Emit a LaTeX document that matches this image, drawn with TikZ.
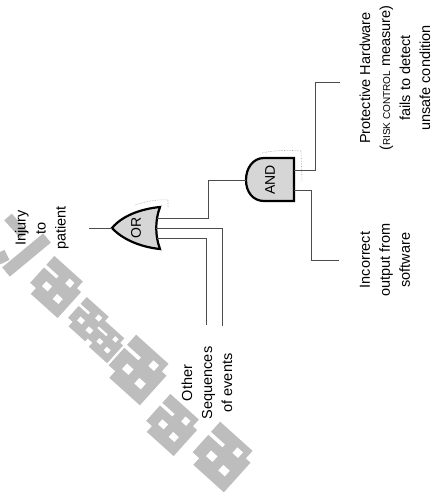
\documentclass[tikz,border=0pt]{standalone}
\usepackage{fontspec}
\setmainfont{Liberation Sans}
\usetikzlibrary{positioning, calc}
\definecolor{gatefill}{gray}{0.84}
\definecolor{wirecol}{gray}{0.3}
\definecolor{markcol}{gray}{0.74}
\tikzset{
    gate/.style={draw=black, line width=2.2pt, fill=gatefill},
    gateshade/.style={draw=gray!70, densely dotted, line width=0.6pt},
    wire/.style={draw=wirecol, line width=1pt},
    gatelabel/.style={rotate=90, font=\fontsize{14}{14}\selectfont},
    eventlabel/.style={rotate=90, align=center, inner sep=0pt, font=\fontsize{14.5}{20}\selectfont},
    markbar/.style={draw=markcol, line width=10pt}
}
% one block of the grey mark
\newcommand{\markblock}[3]{%
    \begin{scope}[shift={(#1,#2)}, rotate=-42, scale=#3/2]
        \fill[markcol] (-1,-1) rectangle (1,1);
        \fill[white] (-1.05,-0.45) rectangle (-0.25,-0.3);
        \fill[white] (0.2,-0.7) rectangle (0.5,-0.4);
        \fill[white] (-0.5,0.1) rectangle (-0.15,0.4);
        \fill[white] (0.25,0.2) rectangle (0.6,0.5);
        \fill[white] (0.75,-1.05) rectangle (1.05,-0.6);
        \fill[white] (-1.05,0.65) rectangle (-0.65,1.05);
    \end{scope}
}
\begin{document}
\begin{tikzpicture}[x=1pt, y=-1pt]
    \useasboundingbox (0,0) rectangle (432,503);

    % grey mark
    \draw[markbar] (8,217) -- (24,235);
    \draw[markbar, line width=12pt] (6,272) -- (47,238);
    \draw[markbar] (0,252) -- (5,262);
    \markblock{56}{287}{44}
    \markblock{88}{321}{34}
    \markblock{106}{342}{30}
    \markblock{138}{370}{50}
    \markblock{172}{425}{44}
    \markblock{222}{457}{50}

    % labels
    \node[eventlabel] (injury) at (42,228) {Injury\\to\\patient};
    \node[eventlabel] (other) at (207,383) {Other\\Sequences\\of events};
    \node[eventlabel] (incorrect) at (385,260) {Incorrect\\output from\\software};
    \node[eventlabel] (hardware) at (395,78) {Protective Hardware\\({\fontsize{10}{20}\selectfont RISK CONTROL} measure)\\fails to detect\\unsafe condition};

    % AND gate
    \draw[gateshade] (262,153) .. controls (275,150) and (290,150) .. (301,151) -- (302,182);
    \draw[gate] (294,158) -- (264,158) .. controls (253,158) and (246,168) .. (246,180)
        .. controls (246,192) and (253,201) .. (264,201) -- (294,201) -- cycle;
    \node[gatelabel] (and) at (270,180) {AND};
    \coordinate (andout) at (246,180);
    \coordinate (andinA) at (294,170);
    \coordinate (andinB) at (294,190);

    % OR gate
    \draw[gateshade] (135,205) .. controls (145,202) and (155,199) .. (168,200) -- (168,208);
    \draw[gate] (160,207) .. controls (140,209) and (122,216) .. (112,228)
        .. controls (122,239) and (140,247) .. (160,249)
        .. controls (155,236) and (155,220) .. (160,207) -- cycle;
    \node[gatelabel] (or) at (136,228) {OR};
    \coordinate (orout) at (112,228);
    \coordinate (orinA) at (157,218);
    \coordinate (orinB) at (156,228);
    \coordinate (orinC) at (157,238);

    % free ends
    \coordinate (topend) at (89,228);
    \coordinate (hwend) at (340,82);
    \coordinate (swend) at (339,260);
    \coordinate (seqA) at (222,326);
    \coordinate (seqB) at (206,325);

    % connectors
    \draw[wire] (orout) -- (topend);
    \draw[wire] (andout) -- (208,180) |- (orinA);
    \draw[wire] (orinB) -| (seqA);
    \draw[wire] (orinC) -| (seqB);
    \draw[wire] (andinA) -- (315,170) |- (hwend);
    \draw[wire] (andinB) -- (311,190) |- (swend);
\end{tikzpicture}
\end{document}
